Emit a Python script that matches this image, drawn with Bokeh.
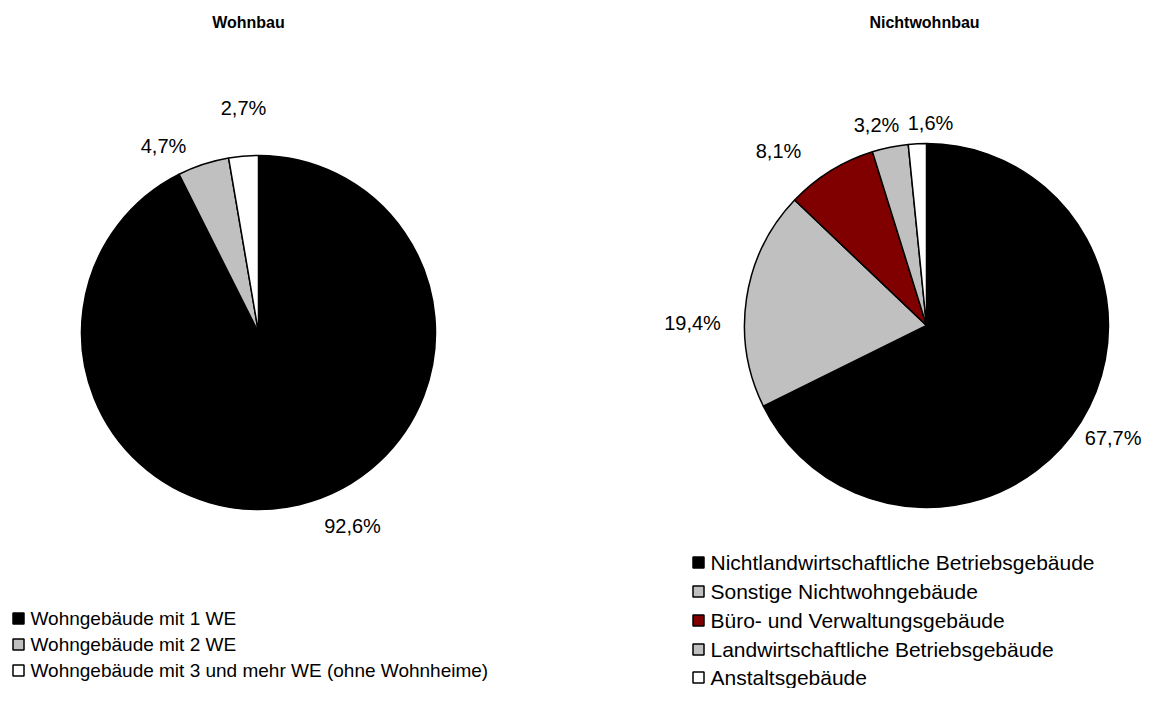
import numpy as np
from bokeh.plotting import figure
from bokeh.models import Range1d, ColumnDataSource
from bokeh.core.properties import value
from bokeh.embed import file_html
from bokeh.resources import INLINE

# ---------------- data ----------------
wohn_title = "Wohnbau"
wohn_cats = ["Wohngebäude mit 1 WE",
             "Wohngebäude mit 2 WE",
             "Wohngebäude mit 3 und mehr  WE (ohne Wohnheime)"]
wohn_vals = [92.6, 4.7, 2.7]
wohn_colors = ["#000000", "#C0C0C0", "#FFFFFF"]

nwb_title = "Nichtwohnbau"
nwb_cats = ["Nichtlandwirtschaftliche Betriebsgebäude",
            "Sonstige Nichtwohngebäude",
            "Büro- und Verwaltungsgebäude",
            "Landwirtschaftliche Betriebsgebäude",
            "Anstaltsgebäude"]
nwb_vals = [67.7, 19.4, 8.1, 3.2, 1.6]
nwb_colors = ["#000000", "#C0C0C0", "#800000", "#C0C0C0", "#FFFFFF"]

# ---------------- layout (screen px) ----------------
W, H = 1143, 688
FONT = "Liberation Sans"

def sx(x):
    return x

def sy(y):
    return H - y

p = figure(width=W, height=H, output_backend="svg", toolbar_location=None,
           x_range=Range1d(0, W), y_range=Range1d(0, H),
           x_axis_type=None, y_axis_type=None, min_border=0)
p.grid.visible = False
p.outline_line_color = None
p.background_fill_color = "white"
p.border_fill_color = "white"


def pie(vals, colors, cx, cy, r, lab_pos, lab_align):
    v = np.array(vals, dtype=float)
    frac = v / v.sum()
    cum_after = np.cumsum(frac)
    cum_before = cum_after - frac
    start = np.pi / 2 - 2 * np.pi * cum_after
    end = np.pi / 2 - 2 * np.pi * cum_before
    src = ColumnDataSource(dict(start=start, end=end, color=colors))
    p.wedge(x=sx(cx), y=sy(cy), radius=r, start_angle="start", end_angle="end",
            fill_color="color", line_color="black", line_width=1.5, source=src)
    labels = [("%.1f%%" % x).replace(".", ",") for x in vals]
    lsrc = ColumnDataSource(dict(x=[sx(a) for a, b in lab_pos],
                                 y=[sy(b) for a, b in lab_pos], t=labels,
                                 al=lab_align))
    p.text(x="x", y="y", text="t", source=lsrc, text_align="al",
           text_baseline="middle", text_font=value(FONT),
           text_font_size="20px", text_color="#000000")


def legend(cats, colors, x0, ys, fs):
    src = ColumnDataSource(dict(x=[sx(x0)] * len(cats), y=[sy(y) for y in ys],
                                c=colors, t=cats,
                                tx=[sx(x0 + 12)] * len(cats)))
    p.scatter(x="x", y="y", marker="square", size=11, fill_color="c",
              line_color="black", line_width=1.5, source=src)
    p.text(x="tx", y="y", text="t", source=src, text_align="left",
           text_baseline="middle", text_font=value(FONT),
           text_font_size=fs, text_color="#000000")


# left pie
pie(wohn_vals, wohn_colors, 258, 332, 177,
    [(352, 525), (163, 145), (243, 107)],
    ["center", "center", "center"])
# right pie
pie(nwb_vals, nwb_colors, 926, 325, 182,
    [(1141, 437), (692, 322), (778, 150), (876, 124), (930, 122)],
    ["right", "center", "center", "center", "center"])

# titles
tsrc = ColumnDataSource(dict(x=[sx(248), sx(924)], y=[sy(22), sy(22)],
                             t=[wohn_title, nwb_title]))
p.text(x="x", y="y", text="t", source=tsrc, text_align="center",
       text_baseline="middle", text_font=value(FONT), text_font_style="bold",
       text_font_size="16px", text_color="#000000")

legend(wohn_cats, wohn_colors, 18, [618, 644, 670], "19px")
legend(nwb_cats, nwb_colors, 698, [562, 591, 620, 649, 677], "21px")

open("out.html", "w").write(file_html(p, INLINE))
